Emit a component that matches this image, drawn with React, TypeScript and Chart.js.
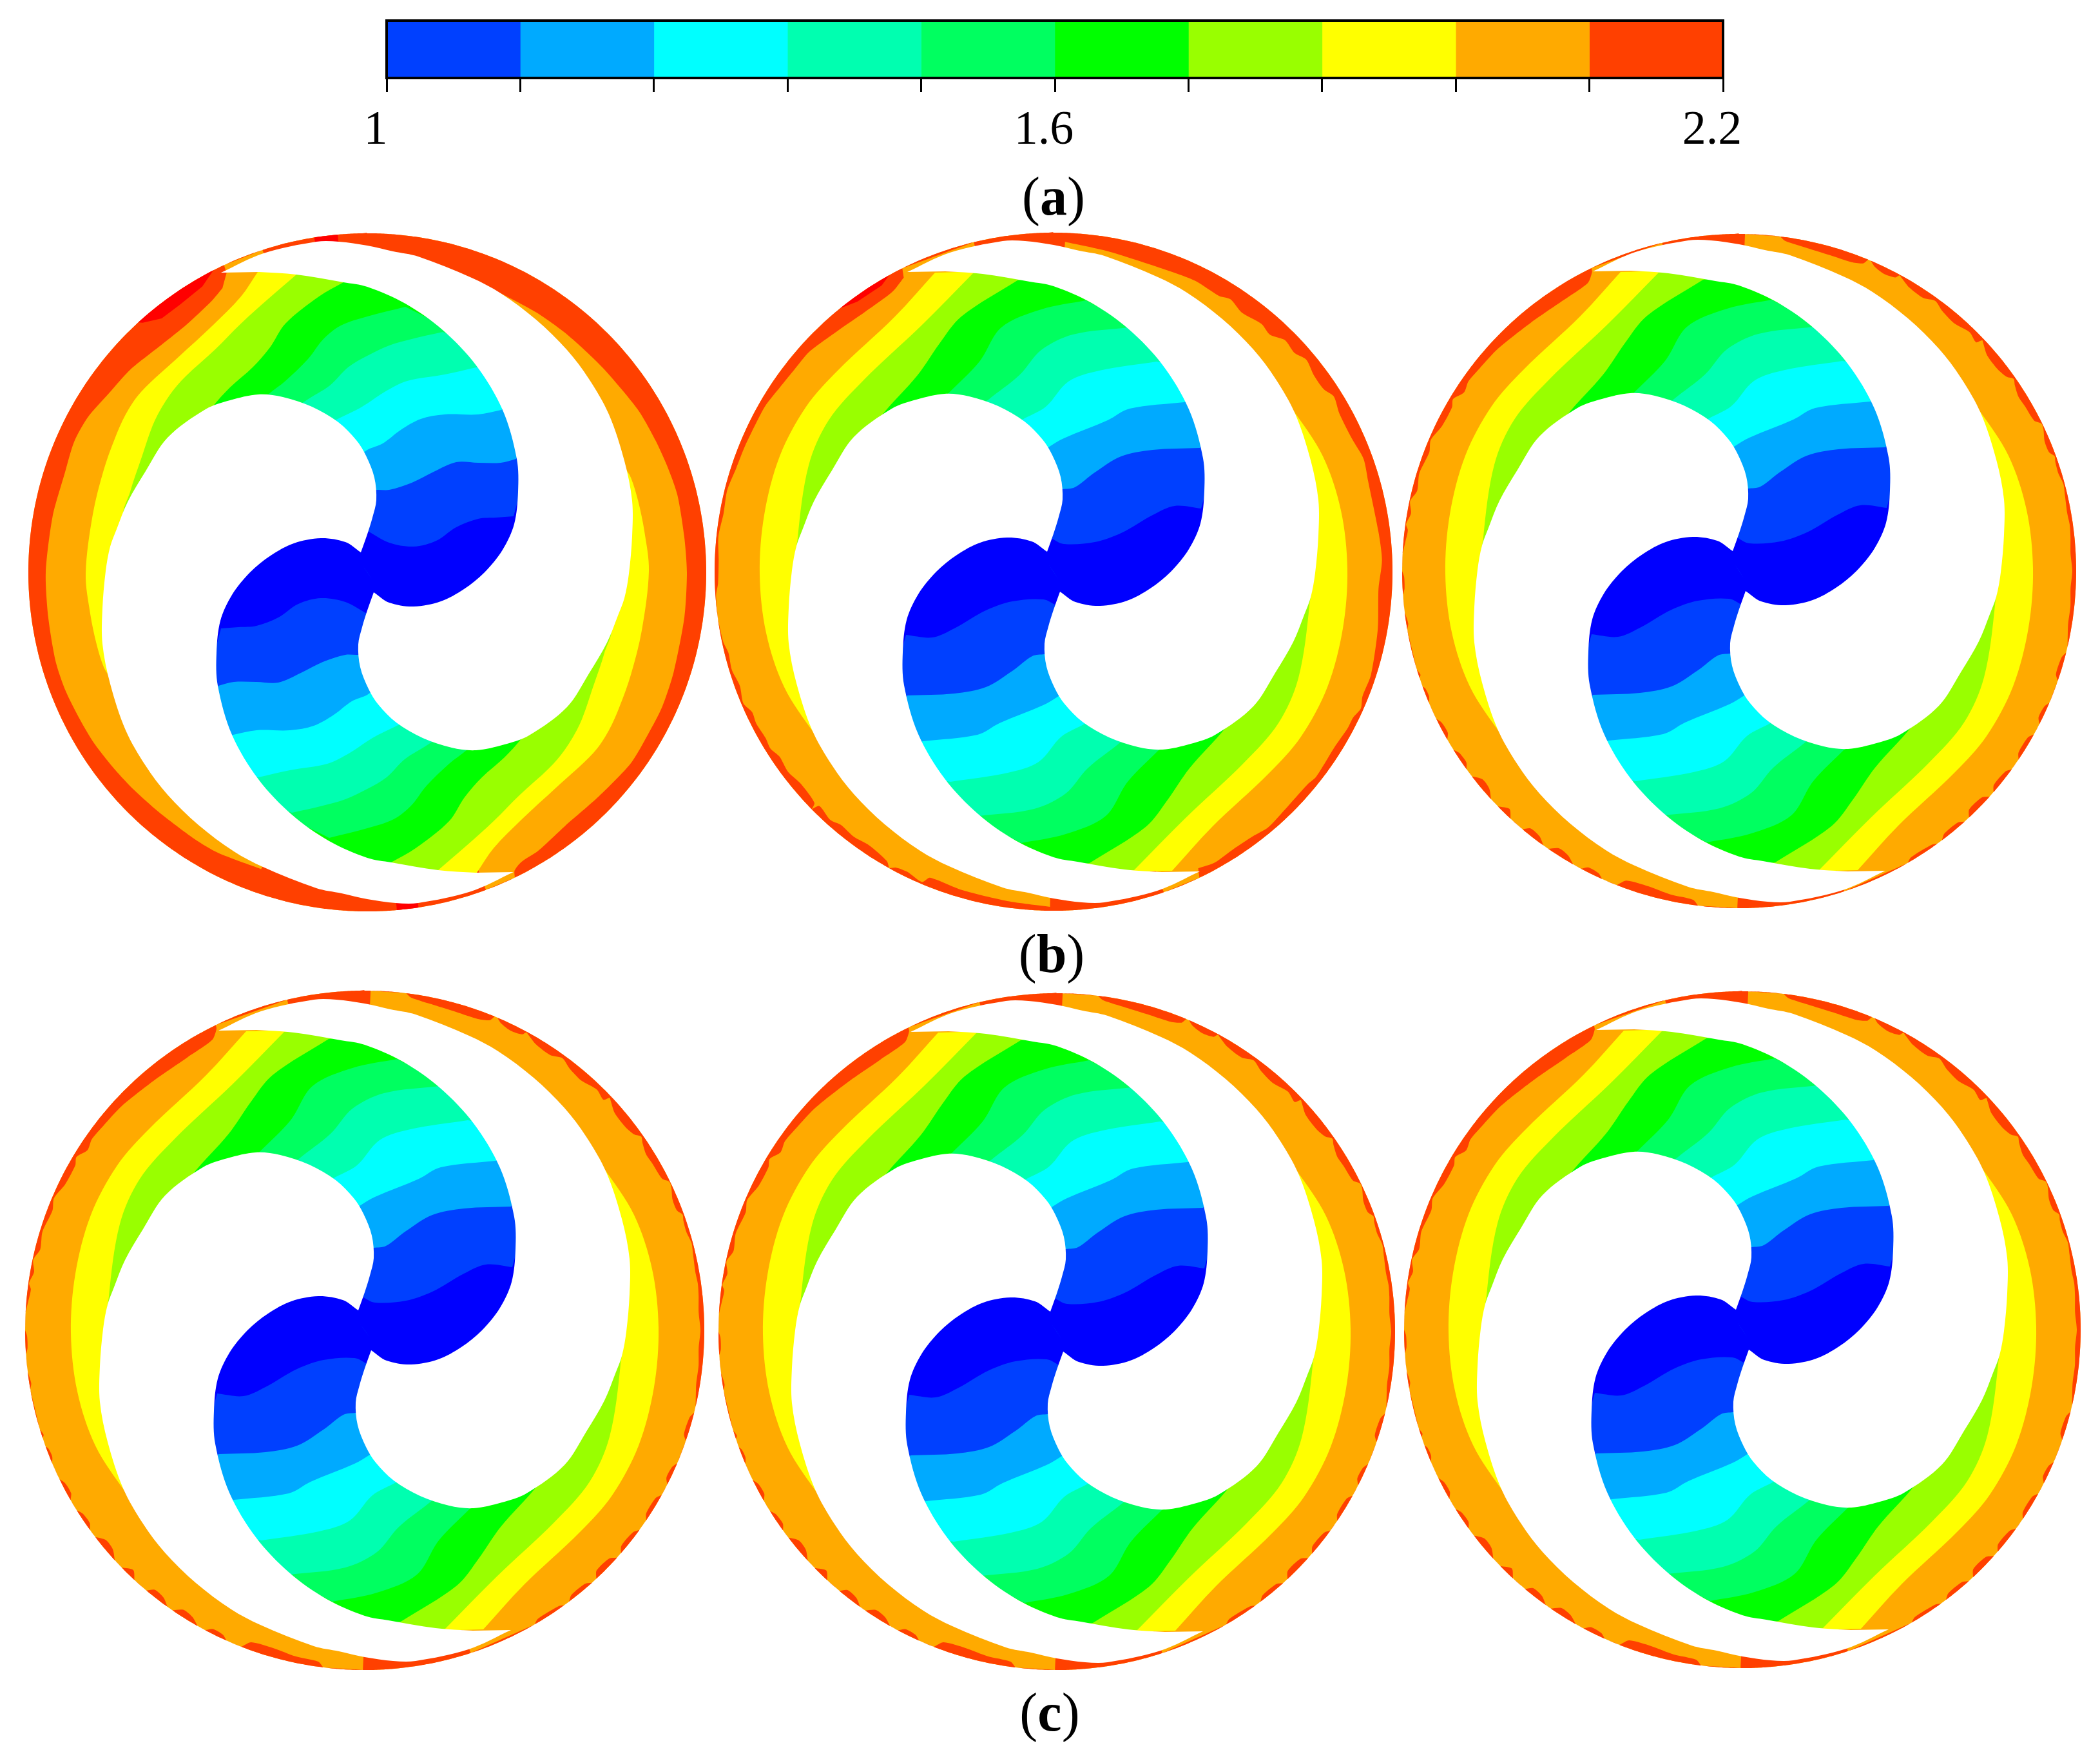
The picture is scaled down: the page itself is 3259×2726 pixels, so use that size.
import React, { useEffect, useRef } from "react";
import { Chart, registerables } from "chart.js";

Chart.register(...registerables);

type P = [number, number];

const W = 3259;
const H = 2726;

// colour bar
const barEdges = [1, 1.12, 1.24, 1.36, 1.48, 1.6, 1.72, 1.84, 1.96, 2.08, 2.2];
const barColors = ["#0040ff", "#00aaff", "#00ffff", "#00ffb0", "#00ff60", "#00ff00", "#99ff00", "#ffff00", "#ffaa00", "#ff4000"];
const tickLabels = ["1", "1.6", "2.2"];

// colours painted for each contour region, highest level first
const levelColors = ["#ffff00", "#99ff00", "#00ff00", "#00ff60", "#00ffb0", "#00ffff", "#00aaff", "#0040ff", "#0000ff"];
const ORANGE = "#ffaa00";
const RED = "#ff4000";
const HOT = "#ff0000";

// rotor cavity outline, relative to the panel centre (the doubled point is the sharp notch)
const cavity: P[] = [
  [-227, -465], [-161, -495], [-79, -513], [-44, -513], [0, -507], [40, -498], [79, -490], [162, -457], [207, -433], [262, -392], [310, -345], [344, -300],
  [375, -245], [399, -173], [411, -111], [411, -56], [406, 2], [399, 40], [389, 67], [372, 109], [344, 157], [310, 209],
  [251, 253], [213, 267], [169, 276], [131, 272], [86, 257], [45, 233], [17, 205], [2, 181], [-11, 147], [-14, 112],
  [-8, 85], [0, 59], [10, 31], [10, 31], [34, 47], [72, 53], [114, 45], [150, 26], [182, 0], [210, -35], [228, -75], [234, -125],
  [232, -176], [210, -252], [169, -321], [117, -376], [59, -417], [0, -443], [-37, -450], [-110, -462], [-168, -466],
];

// hidden part of each contour region: it runs inside the white cavities
const routeLow: P[] = [[-100, -150], [0, 0], [100, 150], [370, 0], [285, -300]];
const routeTop: P = [100, -472];
const routeTip: P[] = [[-300, 100], [-250, -50]];

// contours of panel b-1 (last point of each lies just inside the white cavity)
const b1C8: P[] = [[-170, -466], [-196, -428], [-240, -383], [-292, -335], [-351, -280], [-375, -245], [-392, -207], [-409, -159], [-426, -90], [-437, 2], [-430, 64], [-420, 112], [-409, 147], [-399, 164], [-380, 200]];
const b1C7: P[] = [[-110, -462], [-154, -424], [-196, -386], [-237, -345], [-282, -304], [-306, -276], [-330, -235], [-351, -176], [-368, -125], [-375, -90]];
const b1C6: P[] = [[-37, -450], [-75, -428], [-127, -386], [-151, -349], [-178, -318], [-213, -287], [-240, -257], [-262, -225]];
const b1C5: P[] = [[59, -412], [0, -397], [-41, -383], [-68, -362], [-92, -331], [-127, -297], [-154, -276], [-175, -255]];
const b1C4: P[] = [[117, -373], [69, -362], [34, -352], [0, -336], [-30, -318], [-58, -290], [-96, -266], [-115, -250]];
const b1C3: P[] = [[169, -318], [120, -307], [62, -297], [27, -280], [0, -262], [-17, -252], [-48, -237], [-70, -225]];
const b1C2: P[] = [[208, -252], [172, -245], [120, -245], [83, -238], [52, -221], [24, -200], [0, -190], [-20, -175]];
const b1C1: P[] = [[231, -176], [207, -170], [172, -170], [138, -171], [103, -156], [69, -139], [34, -128], [15, -128], [-5, -125]];
const b1C0: P[] = [[227, -87], [200, -85], [172, -83], [138, -70], [107, -49], [72, -40], [34, -46], [0, -64], [-15, -68]];

// contours shared by the other panels
const cC8: P[] = [[-184, -464], [-246, -396], [-335, -312], [-384, -256], [-425, -179], [-449, -88], [-456, 4], [-446, 95], [-418, 179], [-370, 253], [-340, 290]];
const cC7: P[] = [[-125, -463], [-205, -382], [-294, -298], [-349, -235], [-380, -165], [-397, -53], [-396, -10]];
const cC6: P[] = [[-56, -452], [-143, -396], [-177, -354], [-211, -305], [-267, -242], [-285, -210]];
const cC5: P[] = [[50, -421], [-19, -407], [-81, -379], [-115, -326], [-163, -277], [-185, -255]];
const cC4: P[] = [[116, -379], [30, -368], [-19, -344], [-53, -305], [-101, -267], [-120, -250]];
const cC3: P[] = [[160, -326], [71, -312], [23, -295], [-12, -256], [-50, -235], [-70, -220]];
const cC2: P[] = [[203, -263], [118, -253], [84, -235], [16, -207], [-8, -193], [-30, -178]];
const cC1: P[] = [[227, -192], [154, -189], [105, -179], [64, -154], [33, -131], [14, -128], [-6, -125]];
const cC0: P[] = [[229, -98], [188, -102], [154, -88], [105, -60], [64, -46], [16, -43], [-5, -53], [-18, -62]];

// red rim thickness: [clockwise angle from the top, thickness]
const rimB1: P[] = [
  [0, 60], [25, 60], [25.5, 46], [33, 45], [40, 44], [49, 42], [59, 36], [65.5, 34], [71, 32], [76, 30], [83.5, 31], [90, 30], [98, 29],
  [108, 26], [114.5, 23], [120, 23], [126, 21], [134, 26], [142, 27], [148.5, 19], [152, 17], [153.7, 10], [154.2, 0], [159.5, 0], [159.6, 60],
  [199, 60], [199.7, 37], [208, 33], [213, 33], [221, 33], [227, 31], [232, 29], [238, 26], [243, 25], [248.5, 23], [254, 23], [262, 26],
  [270, 27], [280, 30], [288, 32], [294, 28], [299, 30], [304.5, 38], [310.5, 42], [318, 50], [324, 50], [330, 41], [333, 31], [334.8, 13],
  [335, 0], [342, 0], [342.1, 60], [360, 60],
];
const hotB1A: P[] = [[317.5, 0], [318, 5], [321, 19], [325, 19], [330, 14], [333, 0]];
const hotB1B: P[] = [[351, 12], [355, 12]];
const hotB1C: P[] = [[171.3, 12], [175, 12]];

const rimB2: P[] = [
  [0, 60], [1.8, 60], [2, 14], [10, 22], [21, 26], [26, 24], [31, 27], [33, 22], [36, 29], [40, 24], [42.4, 28], [45, 18], [47.7, 21], [50, 14],
  [53, 20], [56, 20], [58, 13], [61, 19], [66, 19], [70, 14], [74, 18], [83, 18], [88, 16], [93, 21], [100, 15], [108, 8], [112, 9], [114, 4],
  [116, 9], [118, 9], [122, 12], [128, 9], [130, 12], [136, 11], [140, 8], [143, 12], [147, 13], [151, 10], [154, 14], [154.5, 0], [161, 0], [161.2, 60],
  [180.5, 60], [180.6, 6], [188, 10], [196, 12], [202, 14], [203, 3], [206, 8], [208, 6], [209, 0], [210, 8], [214, 14], [217, 11], [220, 13], [222, 8],
  [225, 12], [225.5, 0], [226, 10], [230, 14], [233, 10], [236, 13], [238, 8], [240, 10], [243, 8], [245, 10], [247, 3], [250, 8], [253, 4], [256, 6],
  [258, 2], [262, 0], [266, 1], [268, 5], [272, 6], [276, 3], [280, 6], [284, 4], [288, 8], [292, 9], [296, 10], [300, 10], [304, 14], [308, 16],
  [312, 16], [318, 24], [324, 28], [330, 25], [333, 14], [333.5, 0], [346.4, 0], [346.5, 60], [360, 60],
];
const hotB2: P[] = [[321, 0], [324, 8], [329, 8], [331, 0]];

const rimScallop: P[] = [
  [0, 60], [0.8, 60], [1, 0], [7, 0], [8, 6], [12, 11], [16, 13], [20, 13], [22, 8], [22.5, 0], [23, 0], [24, 6], [26, 10], [28, 7], [28.5, 1],
  [29, 3], [31, 10], [34, 12], [36, 5], [38, 11], [41, 14], [44, 8], [46, 12], [46.5, 3], [47, 5], [49, 13], [52, 14], [54, 10], [55, 3], [56, 7],
  [58, 12], [60, 11], [63, 9], [64, 1], [65, 2], [67, 8], [69, 8], [70, 2], [71, 4], [73, 5], [75, 2], [77, 4], [80, 6], [82, 5], [84, 6], [87, 8],
  [90, 6], [93, 8], [96, 6], [99, 6], [100, 5], [103, 0], [104, 0], [105, 5], [108, 6], [109, 0], [113, 0], [114, 5], [116, 6], [117, 0], [119, 0],
  [120, 6], [123, 6], [124, 0], [126, 0], [127, 6], [130, 7], [131, 0], [132, 0], [133, 8], [136, 9], [137, 0], [138, 0], [139, 6], [142, 6], [143, 0],
  [144, 0], [145, 4], [149, 5], [150, 0], [161.8, 0], [162, 60], [180, 60], [180.3, 0], [187, 0], [188, 8], [192, 10], [196, 14], [200, 12], [201.3, 0],
  [204, 0], [205, 6], [207, 7], [208, 0], [209.5, 0], [211, 8], [213, 10], [214.5, 0], [215.5, 0], [217, 8], [219, 9], [220, 0], [222.7, 0], [224, 10],
  [225.7, 0], [227.4, 0], [229, 9], [231, 10], [232.5, 0], [234, 0], [235, 6], [237, 5], [238, 0], [240, 0], [241, 6], [243, 5], [244, 0], [247, 0],
  [248, 4], [249.5, 3], [250, 0], [251.5, 0], [252, 3], [253, 0], [260, 0], [261, 3], [263, 0], [266, 0], [267, 3], [269, 3], [270, 0], [273, 0],
  [275, 3], [277, 5], [278, 1], [280, 6], [282, 1], [284, 8], [287, 4], [291, 8], [293, 3], [296, 10], [299.7, 10], [301, 5], [303, 14], [305, 10],
  [308, 12], [312.7, 14], [320, 20], [327, 22], [332.3, 18], [333.8, 6], [334, 0], [346.8, 0], [347, 60], [360, 60],
];

// panel centres and rim radius
const panelX = [570, 1635, 2699, 566, 1640, 2704];
const panelY = [888, 887, 886, 2064, 2066, 2063];
const panelR = [526, 526, 523, 527, 525, 525];

const b1Contours = [b1C8, b1C7, b1C6, b1C5, b1C4, b1C3, b1C2, b1C1, b1C0];
const cContours = [cC8, cC7, cC6, cC5, cC4, cC3, cC2, cC1, cC0];
const panelContours = [b1Contours, cContours, cContours, cContours, cContours, cContours];
const panelRim = [rimB1, rimB2, rimScallop, rimScallop, rimScallop, rimScallop];
const panelHot: P[][][] = [[hotB1A, hotB1B, hotB1C], [hotB2], [], [], [], []];

const SMOOTH = 0.33;

function polygon(points: P[], color: string, tension: number) {
  return {
    data: points.map(([x, y]) => ({ x, y })),
    showLine: true,
    fill: "shape",
    backgroundColor: color,
    borderColor: color,
    borderWidth: 0,
    pointRadius: 0,
    tension,
  };
}

// A doubled vertex keeps the curve sharp where the rim thickness jumps or reaches zero,
// so the smoothing cannot push the red past the outer circle.
function rimPolygon(list: P[], cx: number, cy: number, R: number): P[] {
  const at = (deg: number, r: number): P => {
    const a = (deg * Math.PI) / 180;
    return [cx + r * Math.sin(a), cy - r * Math.cos(a)];
  };
  const outer: P[] = [];
  for (let i = 0; i < list.length; i++) {
    outer.push(at(list[i][0], R));
    if (i + 1 < list.length) {
      for (let d = Math.ceil(list[i][0] + 0.01); d < list[i + 1][0]; d++) outer.push(at(d, R));
    }
  }
  const inner: P[] = [];
  for (let i = list.length - 1; i >= 0; i--) {
    const [d, t] = list[i];
    const prev = i > 0 ? list[i - 1][1] : t;
    const next = i + 1 < list.length ? list[i + 1][1] : t;
    const sharp = t === 0 || Math.abs(t - prev) > 12 || Math.abs(t - next) > 12;
    inner.push(at(d, R - t));
    if (sharp) inner.push(at(d, R - t));
  }
  return [...outer, ...inner];
}

function buildPanel(i: number) {
  const cx = panelX[i];
  const cy = panelY[i];
  const R = panelR[i];
  const out: any[] = [];
  const place = (pts: P[]): P[] => pts.map(([x, y]) => [cx + x, cy + y]);
  const mirror = (pts: P[]): P[] => pts.map(([x, y]) => [cx - x, cy - y]);

  out.push({
    data: [{ x: cx, y: cy }],
    showLine: false,
    pointRadius: R,
    pointBackgroundColor: ORANGE,
    pointBorderWidth: 0,
  });
  out.push(polygon(rimPolygon(panelRim[i], cx, cy, R), RED, 0.25));
  panelHot[i].forEach((h) => out.push(polygon(rimPolygon(h, cx, cy, R), HOT, 0)));

  panelContours[i].forEach((contour, k) => {
    const pts: P[] = [...contour];
    if (k === 0) pts.push(...routeTip);
    pts.push(...routeLow);
    if (k <= 2) pts.push(routeTop);
    out.push(polygon(place(pts), levelColors[k], SMOOTH));
    out.push(polygon(mirror(pts), levelColors[k], SMOOTH));
  });

  out.push(polygon(place(cavity), "#ffffff", SMOOTH));
  out.push(polygon(mirror(cavity), "#ffffff", SMOOTH));
  return out;
}

const borderBox = {
  id: "borderBox",
  afterDatasetsDraw(chart: any) {
    const { ctx, chartArea: a } = chart;
    ctx.save();
    ctx.strokeStyle = "#000";
    ctx.lineWidth = 4;
    ctx.strokeRect(a.left, a.top, a.right - a.left, a.bottom - a.top);
    ctx.restore();
  },
};

const caption: React.CSSProperties = {
  position: "absolute",
  transform: "translateX(-50%)",
  fontFamily: '"Liberation Serif"',
  fontSize: 84,
  lineHeight: 1,
  color: "#000",
  whiteSpace: "nowrap",
};

export default function App() {
  const mainRef = useRef<HTMLCanvasElement>(null);
  const barRef = useRef<HTMLCanvasElement>(null);

  useEffect(() => {
    const datasets: any[] = [];
    panelX.forEach((_, i) => datasets.push(...buildPanel(i)));
    datasets.reverse(); // Chart.js paints the first dataset last

    const main = new Chart(mainRef.current!, {
      type: "scatter",
      data: { datasets },
      options: {
        responsive: false,
        animation: false,
        devicePixelRatio: 1,
        events: [],
        layout: { padding: 0, autoPadding: false },
        plugins: { legend: { display: false }, tooltip: { enabled: false } },
        scales: {
          x: { type: "linear", display: false, min: 0, max: W },
          y: { type: "linear", display: false, min: 0, max: H, reverse: true },
        },
      },
    } as any);

    const bar = new Chart(barRef.current!, {
      type: "bar",
      data: {
        labels: ["value"],
        datasets: barColors.map((c, i) => ({
          data: [[barEdges[i], barEdges[i + 1]]],
          backgroundColor: c,
          borderWidth: 0,
          grouped: false,
          barPercentage: 1,
          categoryPercentage: 1,
        })),
      },
      options: {
        indexAxis: "y",
        responsive: false,
        animation: false,
        devicePixelRatio: 1,
        events: [],
        layout: { padding: { left: 600, right: W - 2674, top: 32, bottom: 29 } },
        plugins: { legend: { display: false }, tooltip: { enabled: false } },
        scales: {
          y: { display: false },
          x: {
            type: "linear",
            position: "bottom",
            min: 1,
            max: 2.2,
            afterFit(scale: any) {
              scale.height = 110;
              scale.paddingLeft = 0;
              scale.paddingRight = 0;
            },
            border: { display: false },
            grid: { drawOnChartArea: false, drawTicks: true, tickLength: 22, tickColor: "#000", tickWidth: 3 },
            ticks: {
              stepSize: 0.12,
              autoSkip: false,
              maxRotation: 0,
              minRotation: 0,
              padding: 16,
              labelOffset: -17,
              color: "#000",
              font: { family: '"Liberation Serif"', size: 74 },
              callback(v: any) {
                const s = String(Math.round(Number(v) * 100) / 100);
                return tickLabels.includes(s) ? s : "";
              },
            },
          },
        },
      },
      plugins: [borderBox],
    } as any);

    return () => {
      main.destroy();
      bar.destroy();
    };
  }, []);

  return (
    <div style={{ position: "absolute", left: 0, top: 0, width: W, height: H, background: "#fff", overflow: "hidden" }}>
      <canvas ref={mainRef} width={W} height={H} style={{ position: "absolute", left: 0, top: 0 }} />
      <canvas ref={barRef} width={W} height={260} style={{ position: "absolute", left: 0, top: 0 }} />
      <div style={{ ...caption, left: 1635, top: 263 }}>(<b>a</b>)</div>
      <div style={{ ...caption, left: 1632, top: 1438 }}>(<b>b</b>)</div>
      <div style={{ ...caption, left: 1629, top: 2615 }}>(<b>c</b>)</div>
    </div>
  );
}
